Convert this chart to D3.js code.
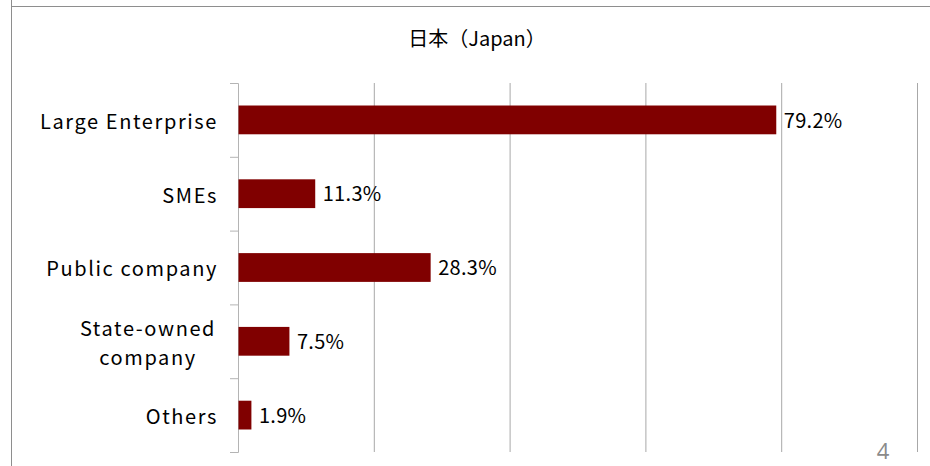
<!DOCTYPE html>
<html>
<head>
<meta charset="utf-8">
<script src="https://cdn.jsdelivr.net/npm/d3@7"></script>
<style>
  html, body { margin: 0; padding: 0; background: #fff; }
  svg { display: block; }
  .lbl { font-family: "Noto Sans CJK JP", "Noto Sans", sans-serif; fill: #000; }
</style>
</head>
<body>
<svg id="chart" width="930" height="466"></svg>
<script>
// Company type shares, Japan
const categories = ["Large Enterprise", "SMEs", "Public company", "State-owned company", "Others"];
const categoryLines = [["Large Enterprise"], ["SMEs"], ["Public company"], ["State-owned", "company"], ["Others"]];
const values = [79.2, 11.3, 28.3, 7.5, 1.9];
const gridTicks = [20, 40, 60, 80, 100];
const title = "日本（Japan）";
const pageNumber = "4";

const svg = d3.select("#chart");
const W = 930, H = 466;

// slide frame
svg.append("line").attr("x1", 11.5).attr("x2", 11.5).attr("y1", 0).attr("y2", H)
  .attr("stroke", "#8e8e8e").attr("stroke-width", 1);
svg.append("line").attr("x1", 11).attr("x2", W).attr("y1", 6.5).attr("y2", 6.5)
  .attr("stroke", "#8e8e8e").attr("stroke-width", 1);

const plot = { left: 238, right: 917, top: 83, bottom: 452 };

const x = d3.scaleLinear().domain([0, 100]).range([plot.left, plot.right]);
const y = d3.scaleBand().domain(categories).range([plot.top, plot.bottom]).padding(0);
const yEdges = d3.scaleLinear().domain([0, categories.length]).range([plot.top, plot.bottom]);

// vertical gridlines
const grid = svg.append("g")
  .attr("transform", `translate(0,${plot.bottom})`)
  .call(d3.axisBottom(x).tickValues(gridTicks).tickSize(-(plot.bottom - plot.top)).tickFormat(""));
grid.select(".domain").remove();
grid.selectAll(".tick line").attr("stroke", "#a8a8a8").attr("stroke-width", 1);

// category axis with ticks at band edges
const yAxis = svg.append("g")
  .attr("transform", `translate(${plot.left},0)`)
  .call(d3.axisLeft(yEdges).ticks(categories.length).tickSize(8).tickFormat(""));
yAxis.select(".domain").attr("stroke", "#b4b4b4");
yAxis.selectAll(".tick line").attr("stroke", "#b4b4b4");

// bars
const barFrac = 0.39;
svg.append("g").selectAll("rect")
  .data(categories)
  .join("rect")
  .attr("x", x(0) + 0.5)
  .attr("y", d => y(d) + y.bandwidth() * (1 - barFrac) / 2)
  .attr("width", (d, i) => x(values[i]) - x(0))
  .attr("height", y.bandwidth() * barFrac)
  .attr("fill", "#800000");

// value labels
svg.append("g").selectAll("text")
  .data(categories)
  .join("text")
  .attr("class", "lbl")
  .attr("x", (d, i) => x(values[i]) + 8)
  .attr("y", d => y(d) + y.bandwidth() / 2)
  .attr("dy", "0.38em")
  .attr("font-size", 20)
  .attr("letter-spacing", 0.3)
  .text((d, i) => values[i].toFixed(1) + "%");

// category labels
const labelX = plot.left - 20;
const lineH = 29;
svg.append("g").selectAll("text")
  .data(categories)
  .join("text")
  .attr("class", "lbl")
  .attr("font-size", 20)
  .attr("letter-spacing", 1.6)
  .attr("text-anchor", (d, i) => categoryLines[i].length > 1 ? "middle" : "end")
  .each(function (d, i) {
    const lines = categoryLines[i];
    const cy = y(d) + y.bandwidth() / 2;
    const ax = lines.length > 1 ? labelX - 70 : labelX;
    d3.select(this).selectAll("tspan")
      .data(lines)
      .join("tspan")
      .attr("x", ax)
      .attr("y", (t, k) => cy + (k - (lines.length - 1) / 2) * lineH)
      .attr("dy", "0.44em")
      .text(t => t);
  });

// title
svg.append("text")
  .attr("class", "lbl")
  .attr("x", 477)
  .attr("y", 46)
  .attr("text-anchor", "middle")
  .attr("font-size", 20)
  .text(title);

// page number
svg.append("text")
  .attr("x", 883)
  .attr("y", 459)
  .attr("text-anchor", "middle")
  .attr("font-family", "Open Sans, sans-serif")
  .attr("font-size", 22)
  .attr("fill", "#8a8a8a")
  .text(pageNumber);
</script>
</body>
</html>
